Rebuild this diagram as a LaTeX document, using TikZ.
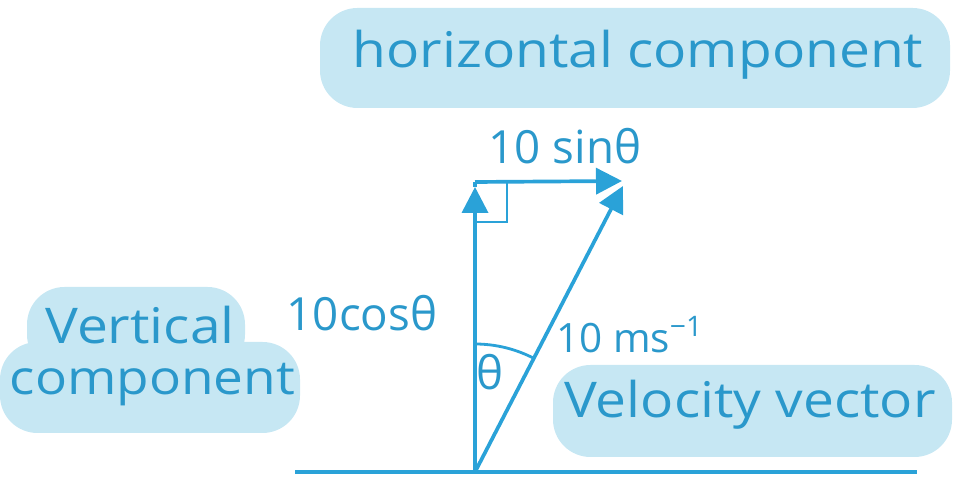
\documentclass[tikz,border=0pt]{standalone}
\usepackage{fontspec}
\setmainfont{Open Sans}
\newfontfamily\widehand[FakeStretch=1.12]{Open Sans}
\usetikzlibrary{arrows.meta}

\definecolor{pen}{HTML}{2AA2D8}
\definecolor{ink}{HTML}{2A98CB}
\definecolor{blob}{HTML}{C6E7F3}

\begin{document}
\begin{tikzpicture}[
    vec/.style={draw=pen,line width=2.1pt,-{Triangle[length=0.52cm,width=0.52cm]}},
    plain/.style={draw=pen,line width=2.1pt},
    hand/.style={text=ink,inner sep=0pt,font=\fontsize{26}{30}\selectfont},
    bighand/.style={text=ink,inner sep=0pt,font=\widehand\fontsize{28}{32}\selectfont},
    cloud/.style={fill=blob,rounded corners=0.75cm}
  ]
    \useasboundingbox (0,0) rectangle (19.12,9.54);

    % shaded clouds behind the labels
    \path[cloud] (6.4,7.38) rectangle (19.0,9.38);
    \path[cloud] (0.54,2.1) rectangle (4.9,3.8);
    \path[cloud] (0,0.88) rectangle (6.0,2.7);
    \path[cloud] (11.06,0.4) rectangle (19.04,2.24);

    \coordinate (O) at (9.5,0.1);
    \coordinate (C) at (9.5,5.9);
    \coordinate (V) at (9.5,5.8);
    \coordinate (H) at (12.44,5.92);
    \coordinate (P) at (12.46,5.82);
    \coordinate (gL) at (5.9,0.1);
    \coordinate (gR) at (18.34,0.1);

    \draw[plain] (gL) -- (gR);
    \draw[vec] (O) -- (V);
    \draw[plain] (V) -- (C);
    \draw[vec] (C) -- (H);
    \draw[vec] (O) -- (P);

    % right angle and angle mark
    \draw[pen,line width=1.6pt] (9.5,5.1) -- (10.14,5.1) -- (10.14,5.9);
    \draw[pen,line width=1.6pt] ([shift={(90:2.56)}]O) arc[start angle=90,end angle=62.3,radius=2.56];

    \node[hand] (sinLabel) at (11.3,6.62) {10 sinθ};
    \node[hand] (cosLabel) at (7.24,3.28) {10cosθ};
    \node[hand,anchor=west,font=\fontsize{23}{27}\selectfont] (speedLabel) at (11.12,2.84) {10 ms\textsuperscript{−1}};
    \node[hand] (thetaLabel) at (9.8,2.1) {θ};

    \node[bighand] (horizLabel) at (12.76,8.44) {horizontal component};
    \node[bighand] (vertLabel) at (2.8,3.04) {Vertical};
    \node[bighand,font=\widehand\fontsize{27}{31}\selectfont] (compLabel) at (3.05,1.84) {component};
    \node[bighand] (velLabel) at (15.0,1.44) {Velocity vector};
\end{tikzpicture}
\end{document}
